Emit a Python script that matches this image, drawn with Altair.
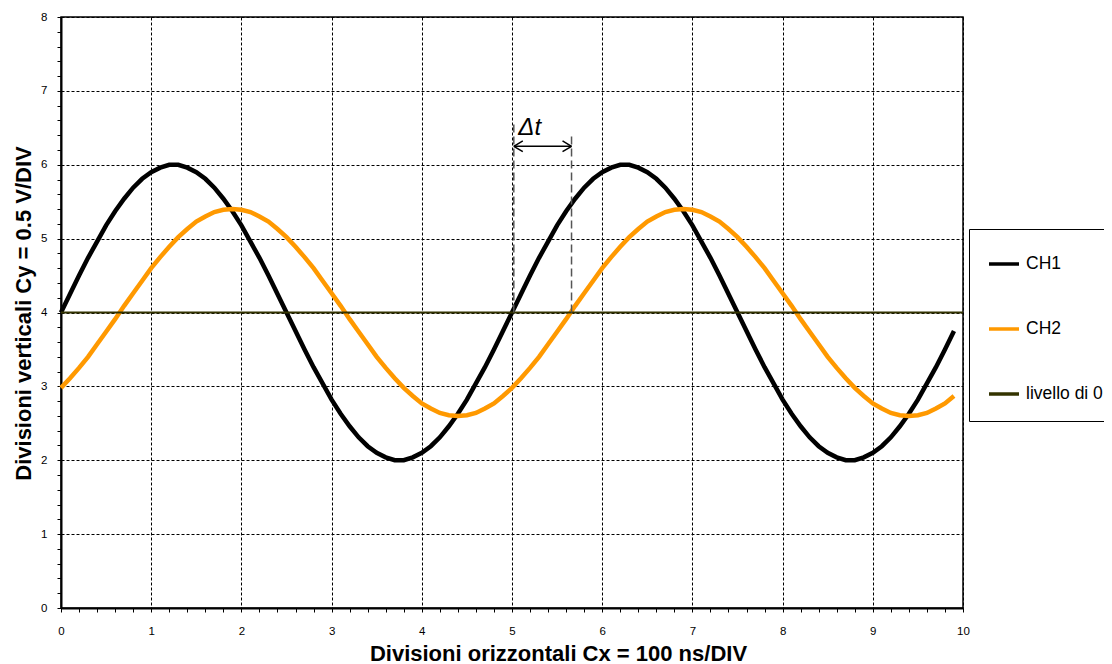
import altair as alt
import pandas as pd

# sample positions (divisions)
x_pos = [round(i * 0.1, 1) for i in range(100)]

ch1 = [4.00, 4.25, 4.50, 4.74, 4.96, 5.18, 5.37, 5.54, 5.69, 5.81,
       5.90, 5.96, 6.00, 6.00, 5.96, 5.90, 5.81, 5.69, 5.54, 5.37,
       5.18, 4.96, 4.74, 4.50, 4.25, 4.00, 3.75, 3.50, 3.26, 3.04,
       2.82, 2.63, 2.46, 2.31, 2.19, 2.10, 2.04, 2.00, 2.00, 2.04,
       2.10, 2.19, 2.31, 2.46, 2.63, 2.82, 3.04, 3.26, 3.50, 3.75,
       4.00, 4.25, 4.50, 4.74, 4.96, 5.18, 5.37, 5.54, 5.69, 5.81,
       5.90, 5.96, 6.00, 6.00, 5.96, 5.90, 5.81, 5.69, 5.54, 5.37,
       5.18, 4.96, 4.74, 4.50, 4.25, 4.00, 3.75, 3.50, 3.26, 3.04,
       2.82, 2.63, 2.46, 2.31, 2.19, 2.10, 2.04, 2.00, 2.00, 2.04,
       2.10, 2.19, 2.31, 2.46, 2.63, 2.82, 3.04, 3.26, 3.50, 3.75]

ch2 = [2.98, 3.11, 3.25, 3.40, 3.57, 3.74, 3.91, 4.09, 4.26, 4.43,
       4.60, 4.75, 4.89, 5.02, 5.13, 5.23, 5.30, 5.36, 5.39, 5.40,
       5.39, 5.36, 5.30, 5.23, 5.13, 5.02, 4.89, 4.75, 4.60, 4.43,
       4.26, 4.09, 3.91, 3.74, 3.57, 3.40, 3.25, 3.11, 2.98, 2.87,
       2.77, 2.70, 2.64, 2.61, 2.60, 2.61, 2.64, 2.70, 2.77, 2.87,
       2.98, 3.11, 3.25, 3.40, 3.57, 3.74, 3.91, 4.09, 4.26, 4.43,
       4.60, 4.75, 4.89, 5.02, 5.13, 5.23, 5.30, 5.36, 5.39, 5.40,
       5.39, 5.36, 5.30, 5.23, 5.13, 5.02, 4.89, 4.75, 4.60, 4.43,
       4.26, 4.09, 3.91, 3.74, 3.57, 3.40, 3.25, 3.11, 2.98, 2.87,
       2.77, 2.70, 2.64, 2.61, 2.60, 2.61, 2.64, 2.70, 2.77, 2.87]

level_x = [0, 10]
level_y = [4, 4]

series_names = ["CH1", "CH2", "livello di 0"]
series_colors = ["#000000", "#FF9900", "#333300"]

x_ticks = [0, 0.2, 0.4, 0.6, 0.8, 1, 1.2, 1.4, 1.6, 1.8, 2, 2.2, 2.4, 2.6, 2.8,
           3, 3.2, 3.4, 3.6, 3.8, 4, 4.2, 4.4, 4.6, 4.8, 5, 5.2, 5.4, 5.6, 5.8,
           6, 6.2, 6.4, 6.6, 6.8, 7, 7.2, 7.4, 7.6, 7.8, 8, 8.2, 8.4, 8.6, 8.8,
           9, 9.2, 9.4, 9.6, 9.8, 10]
y_ticks = [0, 0.2, 0.4, 0.6, 0.8, 1, 1.2, 1.4, 1.6, 1.8, 2, 2.2, 2.4, 2.6, 2.8,
           3, 3.2, 3.4, 3.6, 3.8, 4, 4.2, 4.4, 4.6, 4.8, 5, 5.2, 5.4, 5.6, 5.8,
           6, 6.2, 6.4, 6.6, 6.8, 7, 7.2, 7.4, 7.6, 7.8, 8]

# delta t annotation
dt_x = [5.02, 5.66]
dt_y0 = [4.0, 4.0]
dt_y1 = [6.58, 6.43]
arrow_y = 6.25
dt_label = "\u0394t"
dt_label_x = 5.07
dt_label_y = 6.40

df = pd.DataFrame({
    "x": x_pos + x_pos,
    "y": ch1 + ch2,
    "serie": ["CH1"] * len(ch1) + ["CH2"] * len(ch2),
})
lvl = pd.DataFrame({"x": level_x, "y": level_y, "serie": ["livello di 0"] * 2})
dt_df = pd.DataFrame({"x": dt_x, "y": dt_y0, "y2": dt_y1})
arr_df = pd.DataFrame({"x": [dt_x[0]], "x2": [dt_x[1]], "y": [arrow_y]})
head_l = pd.DataFrame({"x": [dt_x[0]], "y": [arrow_y]})
head_r = pd.DataFrame({"x": [dt_x[1]], "y": [arrow_y]})
lab_df = pd.DataFrame({"x": [dt_label_x], "y": [dt_label_y], "t": [dt_label]})

FONT = "Liberation Sans"
is_int = "datum.value % 1 === 0"
lab_expr = f"{is_int} ? format(datum.value, 'd') : ''"

xs = alt.Scale(domain=[0, 10], nice=False, zero=False)
ys = alt.Scale(domain=[0, 8], nice=False, zero=False)

x_axis = alt.Axis(
    values=x_ticks,
    labelExpr=lab_expr,
    grid=True, gridColor="black", gridDash=[3, 2], gridWidth=1,
    gridOpacity={"condition": {"test": is_int, "value": 1}, "value": 0},
    domainColor="black", domainWidth=2,
    tickColor="black", tickSize=4, tickWidth=1,
    labelFont=FONT, labelFontSize=11.5, labelColor="black", labelPadding=13,
    labelFlush=False,
    title="Divisioni orizzontali Cx = 100 ns/DIV",
    titleFont=FONT, titleFontSize=22, titleFontWeight="bold", titleColor="black",
    titleX=497, titleY=52, titleBaseline="alphabetic", titleAlign="center",
)
y_axis = alt.Axis(
    values=y_ticks,
    labelExpr=lab_expr,
    grid=True, gridColor="black", gridDash=[3, 2], gridWidth=1,
    gridOpacity={"condition": {"test": is_int, "value": 1}, "value": 0},
    domainColor="black", domainWidth=2,
    tickColor="black", tickSize=4, tickWidth=1,
    labelFont=FONT, labelFontSize=11.5, labelColor="black", labelPadding=10,
    labelFlush=False,
    title="Divisioni verticali Cy = 0.5 V/DIV",
    titleFont=FONT, titleFontSize=22, titleFontWeight="bold", titleColor="black",
    titleX=-31, titleY=296, titleAngle=270, titleBaseline="alphabetic",
    titleAlign="center",
)

X = alt.X("x:Q", scale=xs, axis=x_axis)
Y = alt.Y("y:Q", scale=ys, axis=y_axis)

legend = alt.Legend(
    orient="none", legendX=908, legendY=212, title=None,
    fillColor="white", strokeColor="black", padding=18,
    symbolType="stroke", symbolSize=900, symbolStrokeWidth=3.5,
    labelFont=FONT, labelFontSize=17.5, labelColor="black", labelOffset=5,
    labelLimit=300, rowPadding=39,
)
color = alt.Color("serie:N", scale=alt.Scale(domain=series_names, range=series_colors),
                  legend=legend)

lines = alt.Chart(df).mark_line(strokeWidth=4.5, interpolate="linear").encode(
    x=X, y=Y, color=color, detail="serie:N")
level = alt.Chart(lvl).mark_line(strokeWidth=2).encode(x=X, y=Y, color=color)

dt_lines = alt.Chart(dt_df).mark_rule(color="#555555", strokeWidth=1.5,
                                      strokeDash=[8, 4]).encode(
    x=X, y=Y, y2="y2:Q")
arrow = alt.Chart(arr_df).mark_rule(color="black", strokeWidth=1.5).encode(
    x=X, x2="x2:Q", y=Y)
hl = alt.Chart(head_l).mark_point(shape="M0,0L1,-0.6M0,0L1,0.6", size=324,
                                  filled=False, color="black", strokeWidth=1.5,
                                  opacity=1).encode(x=X, y=Y)
hr = alt.Chart(head_r).mark_point(shape="M0,0L-1,-0.6M0,0L-1,0.6", size=324,
                                  filled=False, color="black", strokeWidth=1.5,
                                  opacity=1).encode(x=X, y=Y)
lab = alt.Chart(lab_df).mark_text(font=FONT, fontSize=24, fontStyle="italic",
                                  align="left", baseline="alphabetic",
                                  color="black").encode(x=X, y=Y, text="t:N")

chart = alt.layer(lines, level, dt_lines, arrow, hl, hr, lab).properties(
    width=902, height=591,
    padding={"left": 53, "top": 9, "right": 141, "bottom": 56},
    autosize=alt.AutoSizeParams(type="none"),
    background="white",
).configure_view(stroke="black", strokeWidth=1.5)

chart.save("out.html", embed_options={"renderer": "svg", "actions": False})
